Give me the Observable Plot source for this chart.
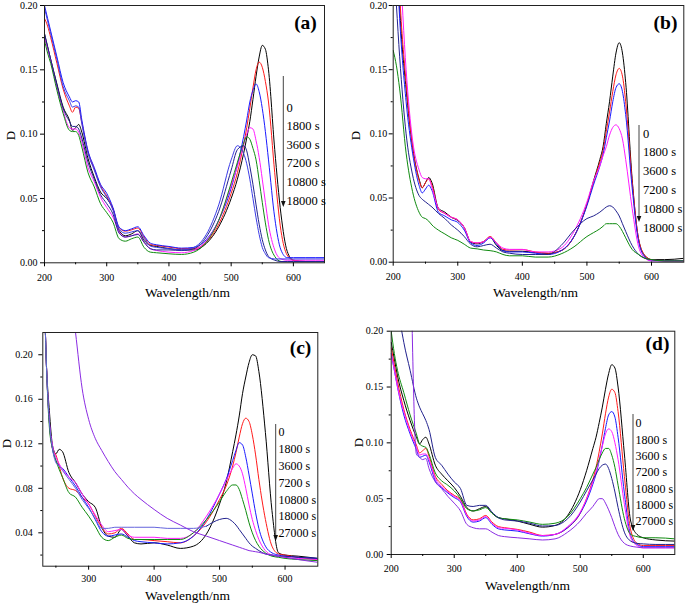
<!DOCTYPE html>
<html><head><meta charset="utf-8">
<script src="https://cdn.jsdelivr.net/npm/d3@7"></script>
<script src="https://cdn.jsdelivr.net/npm/@observablehq/plot@0.6"></script>
<style>
body{margin:0;background:#fff;}
#root{position:relative;width:685px;height:604px;background:#fff;overflow:hidden;}
#root svg{position:absolute;}
</style></head><body><div id="root"></div>
<script>
// ---------- wavelength grids (nm) ----------
const W = [200,205,210,220,230,240,245,250,255,260,
  270,280,290,300,310,320,330,340,350,360,
  370,380,400,420,440,460,480,
  500,510,520,525,530,535,540,545,550,555,560,
  570,580,590,600,620,650];
const Wc = [230,235,240,245,250,255,260,
  270,280,290,300,310,320,330,340,350,360,
  370,380,400,420,440,460,480,
  500,510,520,525,530,535,540,545,550,555,560,
  570,580,590,600,620,650];

// ---------- legend labels ----------
const timesAB = ["0","1800 s","3600 s","7200 s","10800 s","18000 s"];
const timesCD = ["0","1800 s","3600 s","7200 s","10800 s","18000 s","27000 s"];
const panelTags = ["(a)","(b)","(c)","(d)"];
const xTitle = "Wavelength/nm";
const yTitle = "D";

// ---------- ticks ----------
const xTicksABD = [200,300,400,500,600];
const xMinorABD = [250,350,450,550];
const xTicksC = [300,400,500,600];
const xMinorC = [250,350,450,550];
const yTicksABD = [0,0.05,0.10,0.15,0.20];
const yMinorABD = [0.025,0.075,0.125,0.175];
const yTicksC = [0.04,0.08,0.12,0.16,0.20];
const yMinorC = [0.02,0.06,0.10,0.14,0.18];

// ---------- panel (a) ----------
const a0 = [.178,.168,.158,.139,.121,.111,.103,.105,.1075,.1015,
  .081,.0666,.055,.050,.042,.025,.021,.0225,.025,.0174,
  .0135,.0127,.011,.010,.010,.015,.028,
  .05,.065,.085,.097,.11,.127,.145,.16,.169,.166,.15,
  .088,.038,.009,.002,.001,.001];
const a1800 = [.19,.184,.175,.155,.135,.122,.117,.121,.120,.109,
  .086,.073,.060,.052,.042,.0272,.0246,.0256,.027,.020,
  .0142,.0135,.0122,.011,.011,.016,.03,
  .054,.07,.092,.105,.12,.136,.15,.156,.152,.141,.125,
  .07,.025,.006,.002,.001,.001];
const a3600 = [.20,.19,.18,.160,.140,.129,.125,.126,.125,.111,
  .087,.074,.061,.054,.043,.0277,.025,.0264,.028,.021,
  .0153,.014,.0127,.0114,.012,.018,.033,
  .058,.076,.098,.111,.125,.134,.139,.133,.12,.102,.08,
  .035,.01,.004,.004,.004,.004];
const a7200 = [.175,.166,.157,.136,.118,.105,.104,.104,.1015,.094,
  .074,.063,.051,.043,.0355,.024,.020,.021,.0225,.016,
  .011,.0096,.0083,.0078,.0096,.017,.033,
  .06,.075,.092,.1,.105,.104,.095,.082,.065,.047,.03,
  .01,.003,.002,.002,.002,.002];
const a10800 = [.173,.163,.155,.134,.116,.103,.102,.102,.099,.090,
  .070,.059,.046,.039,.0316,.0187,.0168,.0187,.020,.012,
  .0083,.0078,.007,.0065,.0083,.016,.033,
  .062,.078,.093,.098,.096,.089,.08,.064,.047,.031,.018,
  .005,.001,.0005,.0005,.0005,.0005];
const a18000 = [.178,.168,.158,.138,.12,.11,.106,.106,.104,.097,
  .078,.065,.053,.046,.038,.023,.020,.021,.022,.016,
  .011,.010,.010,.0095,.011,.02,.04,
  .072,.088,.091,.087,.075,.061,.045,.03,.018,.01,.005,
  .002,.001,.001,.001,.001,.001];
const aExtra = [.198,.188,.178,.158,.137,.126,.121,.122,.121,.108,
  .085,.072,.059,.051,.041,.026,.023,.024,.025,.019,
  .013,.012,.011,.010,.012,.022,.045,
  .08,.091,.085,.077,.065,.05,.035,.022,.012,.007,.004,
  .003,.003,.003,.003,.003,.003];

// ---------- panel (b) ----------
const b0 = [.30,.26,.20,.135,.09,.065,.058,.062,.066,.062,
  .042,.039,.035,.0325,.027,.0156,.0143,.016,.0195,.013,
  .009,.0085,.0085,.0075,.0068,.009,.02,
  .045,.063,.08,.09,.108,.125,.145,.163,.171,.163,.14,
  .065,.018,.005,.002,.002,.003];
const b1800 = [.32,.27,.21,.14,.09,.064,.058,.062,.065,.060,
  .041,.038,.035,.033,.027,.016,.015,.016,.02,.015,
  .01,.0095,.0098,.008,.007,.009,.02,
  .045,.062,.078,.087,.102,.117,.133,.146,.151,.145,.125,
  .063,.018,.005,.002,.001,.001];
const b3600 = [.28,.24,.19,.125,.085,.06,.054,.057,.06,.056,
  .039,.036,.033,.031,.025,.015,.013,.015,.019,.014,
  .009,.008,.008,.007,.006,.009,.02,
  .044,.06,.075,.084,.097,.11,.125,.136,.139,.133,.115,
  .058,.016,.004,.001,.001,.001];
const b7200 = [.34,.29,.24,.15,.095,.072,.066,.065,.065,.058,
  .042,.038,.035,.033,.027,.016,.015,.016,.0195,.015,
  .011,.01,.01,.008,.008,.011,.024,
  .047,.063,.075,.083,.09,.099,.105,.107,.104,.096,.08,
  .042,.012,.003,.001,.001,.001];
const b10800 = [.24,.2,.16,.1,.068,.052,.049,.047,.045,.043,
  .038,.034,.029,.025,.02,.014,.012,.013,.014,.011,
  .008,.007,.006,.006,.006,.013,.025,
  .034,.036,.039,.041,.043,.044,.043,.04,.036,.03,.024,
  .013,.006,.003,.002,.001,.001];
const b18000 = [.165,.153,.135,.085,.055,.039,.035,.034,.032,.029,
  .025,.022,.019,.017,.014,.011,.0104,.0095,.009,.008,
  .006,.005,.005,.004,.004,.0065,.012,
  .02,.023,.026,.028,.03,.030,.030,.030,.028,.024,.019,
  .01,.006,.003,.002,.001,.001];

// ---------- panel (c) ----------
const c0 = [.32,.2,.15,.118,.111,.115,.113,
  .094,.085,.075,.068,.063,.045,.037,.036,.043,.037,
  .031,.030,.031,.029,.026,.028,.039,
  .066,.085,.113,.128,.145,.165,.18,.193,.2,.199,.185,
  .13,.06,.022,.02,.019,.017];
const c1800 = [.32,.2,.14,.115,.11,.1,.09,
  .08,.078,.072,.066,.055,.045,.039,.04,.044,.039,
  .034,.034,.033,.032,.031,.037,.05,
  .07,.082,.1,.112,.126,.138,.143,.14,.128,.11,.088,
  .052,.028,.021,.02,.018,.016];
const c3600 = [.32,.2,.14,.115,.105,.1,.098,
  .09,.082,.072,.063,.052,.041,.037,.038,.039,.036,
  .033,.032,.031,.03,.031,.037,.052,
  .075,.088,.105,.114,.121,.119,.108,.092,.075,.058,.044,
  .028,.022,.02,.019,.018,.017];
const c7200 = [.32,.2,.14,.118,.108,.102,.097,
  .09,.085,.075,.066,.056,.047,.041,.042,.043,.038,
  .036,.036,.036,.035,.035,.04,.055,
  .075,.087,.098,.102,.1,.093,.08,.065,.052,.042,.034,
  .024,.02,.019,.018,.017,.016];
const c10800 = [.32,.2,.135,.115,.105,.097,.09,
  .076,.072,.063,.055,.046,.036,.033,.036,.038,.035,
  .034,.034,.034,.034,.034,.04,.052,
  .068,.077,.083,.083,.079,.07,.06,.049,.04,.033,.028,
  .022,.019,.018,.017,.016,.015];
const c18000 = [.32,.2,.14,.115,.103,.1,.096,
  .088,.08,.07,.062,.053,.044,.044,.045,.045,.045,
  .045,.045,.045,.044,.044,.044,.046,
  .052,.053,.05,.047,.043,.039,.035,.031,.028,.026,.024,
  .021,.02,.019,.019,.018,.017];
const c27000 = [NaN,NaN,NaN,NaN,NaN,NaN,NaN,
  .27,.22,.17,.142,.125,.114,.104,.095,.088,.081,
  .075,.07,.061,.053,.047,.041,.037,
  .033,.031,.029,.028,.027,.026,.025,.024,.0235,.023,.0225,
  .021,.02,.019,.018,.016,.0135];

// ---------- panel (d) ----------
const d0 = [.19,.175,.16,.138,.12,.105,.099,.103,.105,.099,
  .08,.072,.066,.06,.052,.042,.039,.041,.043,.037,
  .033,.032,.030,.027,.0245,.026,.035,
  .058,.075,.095,.105,.118,.132,.148,.162,.17,.167,.15,
  .09,.03,.018,.015,.013,.012];
const d1800 = [.185,.17,.155,.13,.112,.098,.091,.093,.095,.088,
  .07,.063,.057,.053,.049,.036,.031,.032,.035,.029,
  .025,.024,.0225,.02,.017,.018,.024,
  .037,.05,.067,.078,.092,.108,.126,.141,.148,.145,.128,
  .07,.022,.01,.008,.008,.008];
const d3600 = [.18,.165,.15,.125,.108,.094,.087,.088,.089,.083,
  .066,.06,.055,.051,.047,.034,.029,.03,.033,.027,
  .023,.022,.021,.0185,.0165,.018,.024,
  .037,.048,.063,.072,.084,.098,.113,.125,.128,.123,.105,
  .055,.017,.009,.007,.007,.007];
const d7200 = [.18,.165,.15,.128,.11,.096,.089,.09,.09,.085,
  .068,.061,.056,.052,.048,.035,.030,.031,.034,.028,
  .024,.0235,.022,.019,.017,.018,.025,
  .038,.05,.065,.074,.085,.097,.108,.1125,.11,.1,.085,
  .045,.015,.008,.006,.006,.006];
const d10800 = [.2,.18,.165,.145,.125,.108,.099,.097,.096,.09,
  .073,.066,.062,.057,.05,.041,.039,.040,.042,.037,
  .033,.032,.031,.029,.027,.028,.034,
  .05,.06,.072,.078,.085,.091,.095,.095,.089,.078,.062,
  .032,.018,.016,.015,.015,.014];
const d18000 = [.27,.25,.225,.19,.165,.14,.132,.126,.12,.112,
  .087,.08,.072,.065,.059,.044,.043,.044,.044,.038,
  .033,.031,.03,.028,.0255,.026,.032,
  .047,.057,.067,.072,.077,.08,.081,.077,.068,.056,.042,
  .02,.012,.01,.0095,.009,.009];
const d27000 = [NaN,NaN,NaN,NaN,.3,.09,.087,.085,.086,.077,
  .065,.059,.052,.046,.039,.027,.024,.023,.023,.02,
  .017,.016,.015,.014,.013,.014,.02,
  .03,.037,.043,.047,.05,.05,.046,.04,.033,.025,.018,
  .01,.0075,.0066,.006,.006,.006];

// ---------- colours ----------
const cBlack = "#000000", cRed = "#ff1a1a", cBlue = "#1a1aff", cMag = "#ff1aff",
      cGreen = "#0f8a0f", cNavy = "#22228e", cPurple = "#8a2be2", cBlue2 = "#3a3ae6",
      cSlate = "#6464dc";

const FONT = "'Liberation Serif','Times New Roman',Times,serif";

function arrowMark(x, y0, y1, offX, offY) {
  return () => {
    const g = d3.create("svg:g");
    const X = x - offX;
    g.append("line").attr("x1", X).attr("x2", X).attr("y1", y0 - offY).attr("y2", y1 - offY - 5)
      .attr("stroke", "#444").attr("stroke-width", 1);
    g.append("path").attr("d", `M${X-2.3},${y1-offY-6}L${X+2.3},${y1-offY-6}L${X},${y1-offY}Z`).attr("fill", "#111");
    return g.node();
  };
}

function makePanel(p) {
  const [fx0, fy0, fx1, fy1] = p.frame;
  const mL = fx0 - p.left, mT = fy0 - p.top, mR = p.left + p.width - fx1, mB = p.top + p.height - fy1;
  const marks = [];
  p.series.forEach((s, k) => {
    const rows = p.wl.map((w, i) => ({w, d: s[i]}));
    const sp = p.split && p.split.index === k ? p.split : null;
    if (sp) {
      marks.push(Plot.line(rows.filter(r => r.w <= sp.at), {x: "w", y: "d", stroke: sp.color, strokeWidth: 1, curve: "monotone-x", clip: true}));
      marks.push(Plot.line(rows.filter(r => r.w >= sp.at), {x: "w", y: "d", stroke: p.colors[k], strokeWidth: 1, curve: "monotone-x", clip: true}));
    } else {
      marks.push(Plot.line(rows, {x: "w", y: "d", stroke: p.colors[k], strokeWidth: 1, curve: "monotone-x", clip: true}));
    }
  });
  marks.push(Plot.frame({stroke: "#222", strokeWidth: 1}));
  marks.push(Plot.axisX({ticks: p.xTicks, tickSize: 4, tickPadding: p.xPad, label: null, tickFormat: d => String(d), fontSize: 10}));
  marks.push(Plot.axisX({ticks: p.xMinor, tickSize: 2, label: null, tickFormat: () => ""}));
  marks.push(Plot.axisY({ticks: p.yTicks, tickSize: 4, tickPadding: p.yPad, label: null, tickFormat: d3.format(".2f"), fontSize: 10}));
  marks.push(Plot.axisY({ticks: p.yMinor, tickSize: 2, label: null, tickFormat: () => ""}));
  marks.push(Plot.text([xTitle], {text: d => d, frameAnchor: "bottom", dx: p.xTitle[0] - (fx0 + fx1) / 2, dy: p.xTitle[1] - fy1,
    lineAnchor: "middle", textAnchor: "middle", fontSize: 13.5}));
  marks.push(Plot.text([yTitle], {text: d => d, frameAnchor: "left", dx: p.yTitle[0] - fx0, dy: p.yTitle[1] - (fy0 + fy1) / 2,
    rotate: -90, lineAnchor: "middle", textAnchor: "middle", fontSize: 13}));
  marks.push(Plot.text([p.tag], {text: d => d, frameAnchor: "top-right", dx: p.tagPos[0] - fx1, dy: p.tagPos[1] - fy0,
    fontWeight: "bold", fontSize: 19.5, textAnchor: "middle", lineAnchor: "middle"}));
  p.legend.labels.forEach((t, i) => {
    marks.push(Plot.text([t], {text: d => d, frameAnchor: "top-left", dx: p.legend.lx - fx0,
      dy: p.legend.ly0 + i * p.legend.step - fy0, textAnchor: "start", lineAnchor: "middle", fontSize: p.legend.fs}));
  });
  marks.push(arrowMark(p.legend.ax, p.legend.ay0, p.legend.ay1, p.left, p.top));

  const svg = Plot.plot({
    width: p.width, height: p.height,
    marginLeft: mL, marginTop: mT, marginRight: mR, marginBottom: mB,
    x: {type: "linear", domain: p.xDomain},
    y: {type: "linear", domain: p.yDomain},
    style: {fontFamily: FONT, fontSize: "10px", color: "#000", background: "transparent", overflow: "visible"},
    marks
  });
  svg.style.left = p.left + "px";
  svg.style.top = p.top + "px";
  document.getElementById("root").appendChild(svg);
}

makePanel({
  left: 0, top: 0, width: 342, height: 300, frame: [44, 5, 324, 262.3],
  xDomain: [200, 650], yDomain: [0, 0.20], wl: W,
  xTicks: xTicksABD, xMinor: xMinorABD, yTicks: yTicksABD, yMinor: yMinorABD, xPad: 7, yPad: 3,
  series: [a0, a1800, a3600, a7200, a10800, a18000, aExtra],
  colors: [cBlack, cRed, cBlue, cMag, cGreen, cNavy, cBlue2],
  xTitle: [187, 292], yTitle: [10, 135], tag: panelTags[0], tagPos: [305, 22],
  legend: {labels: timesAB, lx: 286, ly0: 107, step: 18.6, fs: 12.5, ax: 283.3, ay0: 76, ay1: 207}
});
makePanel({
  left: 342, top: 0, width: 343, height: 300, frame: [392.7, 5, 683.3, 261.7],
  xDomain: [200, 650], yDomain: [0, 0.20], wl: W,
  xTicks: xTicksABD, xMinor: xMinorABD, yTicks: yTicksABD, yMinor: yMinorABD, xPad: 7, yPad: 2,
  series: [b0, b1800, b3600, b7200, b10800, b18000],
  colors: [cBlack, cRed, cBlue, cMag, cNavy, cGreen],
  xTitle: [535, 292], yTitle: [355, 135], tag: panelTags[1], tagPos: [665, 22],
  legend: {labels: timesAB, lx: 642.5, ly0: 133, step: 18.8, fs: 12.5, ax: 639, ay0: 125, ay1: 222}
});
makePanel({
  left: 0, top: 300, width: 342, height: 304, frame: [42.3, 332, 317.3, 565.7],
  xDomain: [230, 650], yDomain: [0.01, 0.22], wl: Wc,
  xTicks: xTicksC, xMinor: xMinorC, yTicks: yTicksC, yMinor: yMinorC, xPad: 5, yPad: 6,
  series: [c0, c1800, c3600, c7200, c10800, c18000, c27000],
  colors: [cBlack, cRed, cBlue, cMag, cGreen, cNavy, cPurple],
  split: {index: 5, at: 480, color: cSlate},
  xTitle: [187, 595], yTitle: [6, 443], tag: panelTags[2], tagPos: [300, 347],
  legend: {labels: timesCD, lx: 278, ly0: 432, step: 16.8, fs: 12, ax: 275.7, ay0: 424, ay1: 541}
});
makePanel({
  left: 342, top: 300, width: 343, height: 304, frame: [390.7, 330.7, 674.3, 554],
  xDomain: [200, 650], yDomain: [0, 0.20], wl: W,
  xTicks: xTicksABD, xMinor: xMinorABD, yTicks: yTicksABD, yMinor: yMinorABD, xPad: 6, yPad: 4,
  series: [d0, d1800, d3600, d7200, d10800, d18000, d27000],
  colors: [cBlack, cRed, cBlue, cMag, cGreen, cNavy, cPurple],
  xTitle: [527, 585], yTitle: [358, 442], tag: panelTags[3], tagPos: [657, 343],
  legend: {labels: timesCD, lx: 635, ly0: 423, step: 16.3, fs: 12, ax: 633, ay0: 414, ay1: 531}
});
</script>
</body></html>
